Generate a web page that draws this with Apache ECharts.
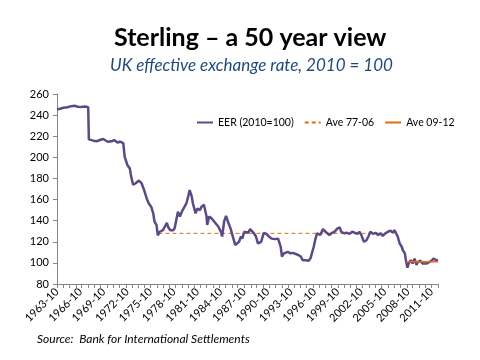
<!DOCTYPE html>
<html>
<head>
<meta charset="utf-8">
<script src="https://cdn.jsdelivr.net/npm/echarts@6/dist/echarts.min.js"></script>
<style>html,body{margin:0;padding:0;background:#fff}#c{width:480px;height:360px}</style>
</head>
<body>
<div id="c"></div>
<script>
// Monthly categories 1963-10 .. 2012-08
const startYear = 1963, startMonth = 10, monthCount = 587;
const categories = [];
for (let i = 0; i < monthCount; i++) {
  const t = startMonth - 1 + i;
  const y = startYear + Math.floor(t / 12), m = (t % 12) + 1;
  categories.push(y + '-' + (m < 10 ? '0' + m : m));
}

const eerDates = ['1963-10','1964-03','1964-08','1965-02','1965-08','1966-01','1966-06','1966-12','1967-05','1967-10','1967-11','1968-01','1968-06','1968-11','1969-04','1969-09','1969-12','1970-04','1970-06','1970-10','1971-02','1971-07','1971-11','1972-02','1972-04','1972-06','1972-10','1973-02','1973-04','1973-07','1973-11','1974-04','1974-08','1974-12','1975-04','1975-07','1975-11','1976-02','1976-04','1976-07','1976-09','1976-12','1977-05','1977-08','1977-11','1978-01','1978-04','1978-09','1978-11','1979-04','1979-07','1979-10','1980-02','1980-05','1980-08','1980-10','1981-01','1981-03','1981-07','1981-10','1982-02','1982-04','1982-08','1982-12','1983-01','1983-04','1983-08','1983-12','1984-03','1984-06','1984-10','1984-12','1985-03','1985-06','1985-09','1986-01','1986-03','1986-06','1986-08','1986-11','1987-02','1987-05','1987-07','1987-10','1988-01','1988-04','1988-07','1988-10','1989-01','1989-04','1989-07','1989-10','1989-12','1990-04','1990-08','1990-12','1991-04','1991-09','1992-02','1992-04','1992-06','1992-08','1992-11','1993-02','1993-05','1993-09','1994-01','1994-04','1994-09','1995-01','1995-04','1995-09','1996-01','1996-04','1996-06','1996-09','1996-11','1997-02','1997-04','1997-07','1997-11','1998-03','1998-06','1998-09','1999-01','1999-05','1999-09','2000-01','2000-03','2000-06','2000-08','2000-12','2001-04','2001-08','2001-11','2002-04','2002-07','2002-10','2003-02','2003-06','2003-09','2003-12','2004-04','2004-08','2004-12','2005-04','2005-07','2005-11','2006-03','2006-07','2006-11','2007-01','2007-04','2007-06','2007-09','2007-12','2008-02','2008-05','2008-07','2008-09','2008-11','2009-02','2009-05','2009-08','2009-11','2010-01','2010-05','2010-08','2010-11','2011-03','2011-06','2011-10','2012-01','2012-04','2012-08'];
const eerValues = [245.5,246,247,247.5,248.5,248.8,248,247.8,248.2,247.5,217,217,215.8,215.2,216.4,217.4,215.8,214.8,213.3,215.2,216.4,214,214.8,214.8,213.5,201,193,189.5,182,174,175.5,178,175.5,169,161,156.5,153,147,139,136,126,129.5,131,134.5,138,134,131,131,133,148.5,144,148.5,153,156.5,163.5,169,163.5,156.5,147,151.5,150,153,155,144,136,144,142,139,137.5,134.5,129.5,125,139,144.5,139,132.5,131,121.5,117,118.5,120,125,123,129.5,131,128.5,132,132,128,125,118.5,117,120,128.5,127.5,125,123,122.5,123,121.5,115.5,106,109,108.5,110.5,109,109.5,109,107.5,106,102.5,102.5,102,104.5,109,115.5,121.5,128,129.5,126.5,132,129.5,128.5,126.5,128.5,129.5,132.5,133.5,129.5,131,128,128.5,127.5,129.5,128.5,127.5,129.5,126.5,120,121.5,125,129.5,127.5,128.5,126.5,128,125.5,128,129.5,130.5,128.5,131,129.5,125,118.5,115.5,112,109,101,95.5,99.5,102.5,99.5,104,98,101,102,99.5,101,99.5,101,102,104,104,102];

const ave7706Dates = ['1976-10','2005-07'];
const ave7706Values = [128,128];
const ave0912Dates = ['2008-07','2012-08'];
const ave0912Values = [101,101];

const pair = (d, v) => d.map((x, i) => [x, v[i]]);

const chart = echarts.init(document.getElementById('c'), null, {renderer: 'canvas'});
chart.setOption({
  animation: false,
  backgroundColor: '#fff',
  title: [
    {text: 'Sterling – a 50 year view', left: 109, top: 20,
     textStyle: {fontFamily: 'Lato', fontSize: 25, fontWeight: 'bold', color: '#000'}},
    {text: 'UK effective exchange rate, 2010 = 100', left: 105, top: 52,
     textStyle: {fontFamily: 'Lato', fontSize: 17, fontStyle: 'italic', fontWeight: 'normal', color: '#1F497D'}}
  ],
  graphic: [{type: 'text', left: 37, top: 333,
    style: {text: 'Source:  Bank for International Settlements', font: 'italic 12px Lato', fill: '#000'}}],
  legend: {
    left: 191, top: 112, itemWidth: 16, itemHeight: 10, itemGap: 10,
    itemStyle: {color: 'transparent', borderColor: 'transparent', borderWidth: 0},
    textStyle: {fontFamily: 'Lato', fontSize: 10.5, color: '#000'},
    data: ['EER (2010=100)', 'Ave 77-06', 'Ave 09-12']
  },
  grid: {left: 57, right: 42, top: 94, bottom: 76, containLabel: false},
  xAxis: {
    type: 'category', data: categories, boundaryGap: false,
    axisLine: {lineStyle: {color: '#868686', width: 1}},
    axisTick: {show: true, length: 4, lineStyle: {color: '#868686'},
      interval: (i) => Math.round(Math.round(i / 9.6) * 9.6) === i},
    axisLabel: {interval: 35, rotate: 45, fontFamily: 'Lato', fontSize: 11, color: '#000', margin: 6},
    splitLine: {show: false}
  },
  yAxis: {
    type: 'value', min: 80, max: 260, interval: 20,
    axisLine: {show: true, lineStyle: {color: '#868686'}},
    axisTick: {show: true, length: 4, lineStyle: {color: '#868686'}},
    axisLabel: {fontFamily: 'Lato', fontSize: 11, color: '#000', margin: 8},
    splitLine: {show: false}
  },
  series: [
    {name: 'EER (2010=100)', type: 'line', data: pair(eerDates, eerValues), showSymbol: false, symbol: 'none',
     lineStyle: {color: '#5B4A86', width: 2.5}, itemStyle: {color: '#5B4A86'}, z: 3},
    {name: 'Ave 77-06', type: 'line', data: pair(ave7706Dates, ave7706Values), showSymbol: false, symbol: 'none',
     lineStyle: {color: '#E46C0A', width: 1, type: [4, 3]}, itemStyle: {color: '#E46C0A'}, z: 2},
    {name: 'Ave 09-12', type: 'line', data: pair(ave0912Dates, ave0912Values), showSymbol: false, symbol: 'none',
     lineStyle: {color: '#E46C0A', width: 1.5}, itemStyle: {color: '#E46C0A'}, z: 4}
  ]
});
</script>
</body>
</html>
